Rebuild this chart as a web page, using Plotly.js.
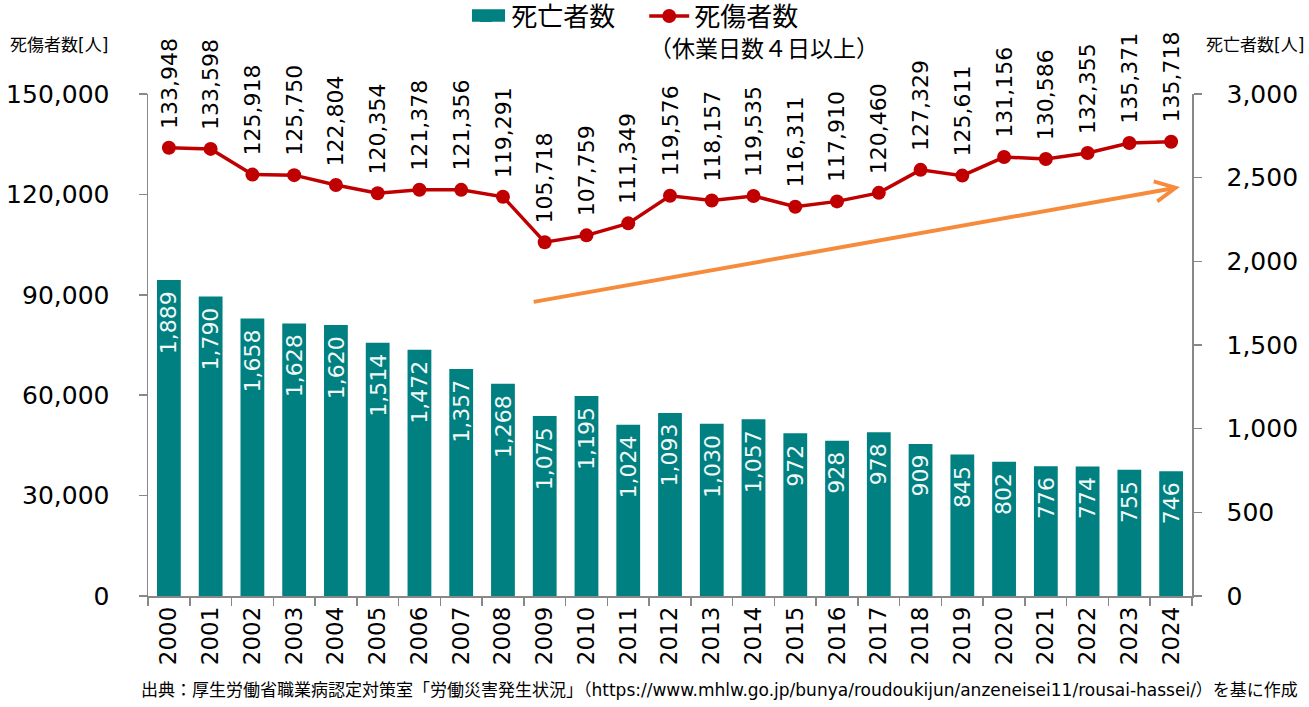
<!DOCTYPE html>
<html>
<head>
<meta charset="utf-8">
<script src="https://cdn.plot.ly/plotly-3.0.1.min.js"></script>
<style>
  html, body { margin: 0; padding: 0; background: #fff; }
  #chart { width: 1309px; height: 707px; }
</style>
</head>
<body>
<div id="chart"></div>
<script>
// 労働災害の推移（死亡者数・死傷者数）
const years = ['2000','2001','2002','2003','2004','2005','2006','2007','2008','2009','2010','2011','2012',
               '2013','2014','2015','2016','2017','2018','2019','2020','2021','2022','2023','2024'];

// 死亡者数（右軸）
const deaths = [1889, 1790, 1658, 1628, 1620, 1514, 1472, 1357, 1268, 1075, 1195, 1024, 1093,
                1030, 1057, 972, 928, 978, 909, 845, 802, 776, 774, 755, 746];

// 死傷者数（休業4日以上、左軸）
const casualties = [133948, 133598, 125918, 125750, 122804, 120354, 121378, 121356, 119291, 105718,
                    107759, 111349, 119576, 118157, 119535, 116311, 117910, 120460, 127329, 125611,
                    131156, 130586, 132355, 135371, 135718];

// 上昇傾向を示す矢印の始点と終点（x: 年の位置, y: 左軸の値）
const trendFrom = [8.7, 87800];
const trendTo = [24.21, 122200];

const FONT = 'DejaVu Sans, "Noto Sans CJK JP", sans-serif';
const BAR_COLOR = '#008080';
const fmt = v => v.toLocaleString('en-US');

const barTrace = {
  type: 'bar',
  name: '死亡者数',
  x: years,
  y: deaths,
  yaxis: 'y2',
  marker: { color: BAR_COLOR },
  width: 0.57,
  hoverinfo: 'skip'
};

const lineTrace = {
  type: 'scatter',
  mode: 'lines+markers',
  name: '死傷者数',
  x: years,
  y: casualties,
  yaxis: 'y',
  line: { color: '#C00000', width: 3.5 },
  marker: { color: '#C00000', size: 14 },
  hoverinfo: 'skip'
};

const annotations = [];

// 死傷者数のラベル（マーカーの上、縦書き）
casualties.forEach((v, i) => {
  annotations.push({
    x: i, y: v, xref: 'x', yref: 'y',
    text: fmt(v), showarrow: false, textangle: -90,
    xanchor: 'center', yanchor: 'bottom', yshift: 17,
    font: { family: FONT, size: 22, color: '#000' }
  });
});

// 死亡者数のラベル（棒の内側上端、白文字）
deaths.forEach((v, i) => {
  annotations.push({
    x: i, y: v, xref: 'x', yref: 'y2',
    text: fmt(v), showarrow: false, textangle: -90,
    xanchor: 'center', yanchor: 'top', yshift: -9,
    font: { family: FONT, size: 22, color: '#F2F8F8' }
  });
});

// 上昇傾向の矢印
annotations.push({
  x: trendTo[0], y: trendTo[1], xref: 'x', yref: 'y',
  ax: trendFrom[0], ay: trendFrom[1], axref: 'x', ayref: 'y',
  text: '', showarrow: true, arrowhead: 5, arrowsize: 1, arrowwidth: 4,
  arrowcolor: '#F68B3C', standoff: 0, startstandoff: 0
});

// 軸の単位
annotations.push({
  xref: 'paper', yref: 'paper', x: -0.085, y: 1.097,
  xanchor: 'center', yanchor: 'middle', showarrow: false,
  text: '死傷者数[人]', font: { family: FONT, size: 17, color: '#000' }
});
annotations.push({
  xref: 'paper', yref: 'paper', x: 1.060, y: 1.097,
  xanchor: 'center', yanchor: 'middle', showarrow: false,
  text: '死亡者数[人]', font: { family: FONT, size: 17, color: '#000' }
});

// 凡例の補足
annotations.push({
  xref: 'paper', yref: 'paper', x: 0.590, y: 1.09,
  xanchor: 'center', yanchor: 'middle', showarrow: false,
  text: '（休業日数４日以上）', font: { family: FONT, size: 23, color: '#000' }
});

// 出典
annotations.push({
  xref: 'paper', yref: 'paper', x: 1.1034, y: -0.187,
  xanchor: 'right', yanchor: 'middle', showarrow: false,
  text: '出典：厚生労働省職業病認定対策室「労働災害発生状況」（https://www.mhlw.go.jp/bunya/roudoukijun/anzeneisei11/rousai-hassei/）を基に作成',
  font: { family: FONT, size: 17, color: '#000' }
});

// 凡例の棒グラフ記号を横長の矩形で表示
const shapes = [{
  type: 'rect', xref: 'paper', yref: 'paper', layer: 'above',
  x0: 0.3103, x1: 0.342, y0: 1.1437, y1: 1.1687,
  fillcolor: BAR_COLOR, line: { width: 0 }
}];

const layout = {
  width: 1309,
  height: 707,
  margin: { l: 148, r: 117, t: 94, b: 111, autoexpand: false },
  paper_bgcolor: '#fff',
  plot_bgcolor: '#fff',
  font: { family: FONT, color: '#000' },
  showlegend: true,
  legend: {
    orientation: 'h',
    x: 0.300, y: 1.202, xanchor: 'left', yanchor: 'top',
    font: { family: FONT, size: 26, color: '#000' },
    itemwidth: 40,
    entrywidth: 128, entrywidthmode: 'pixels',
    traceorder: 'normal',
    bgcolor: 'rgba(0,0,0,0)'
  },
  xaxis: {
    type: 'category',
    range: [-0.5, years.length - 0.5],
    autorange: false,
    tickangle: -90,
    tickfont: { family: FONT, size: 23, color: '#000' },
    showline: true, linecolor: '#888', linewidth: 1.5,
    ticks: 'outside', tickson: 'boundaries', ticklen: 8, tickcolor: '#888', tickwidth: 1.5,
    showgrid: false, zeroline: false
  },
  yaxis: {
    range: [0, 150000],
    autorange: false,
    tickvals: [0, 30000, 60000, 90000, 120000, 150000],
    ticktext: ['0', '30,000', '60,000', '90,000', '120,000', '150,000'],
    tickfont: { family: FONT, size: 25, color: '#000' },
    showline: true, linecolor: '#888', linewidth: 1.5,
    ticks: 'outside', ticklen: 8, tickcolor: '#888', tickwidth: 1.5,
    ticklabelstandoff: 24,
    showgrid: false, zeroline: false
  },
  yaxis2: {
    overlaying: 'y', side: 'right',
    range: [0, 3000],
    autorange: false,
    tickvals: [0, 500, 1000, 1500, 2000, 2500, 3000],
    ticktext: ['0', '500', '1,000', '1,500', '2,000', '2,500', '3,000'],
    tickfont: { family: FONT, size: 25, color: '#000' },
    showline: true, linecolor: '#888', linewidth: 1.5,
    ticks: 'outside', ticklen: 8, tickcolor: '#888', tickwidth: 1.5,
    ticklabelstandoff: 20,
    showgrid: false, zeroline: false
  },
  shapes: shapes,
  annotations: annotations,
  hovermode: false
};

Plotly.newPlot('chart', [barTrace, lineTrace], layout, { displayModeBar: false, staticPlot: true });
</script>
</body>
</html>
